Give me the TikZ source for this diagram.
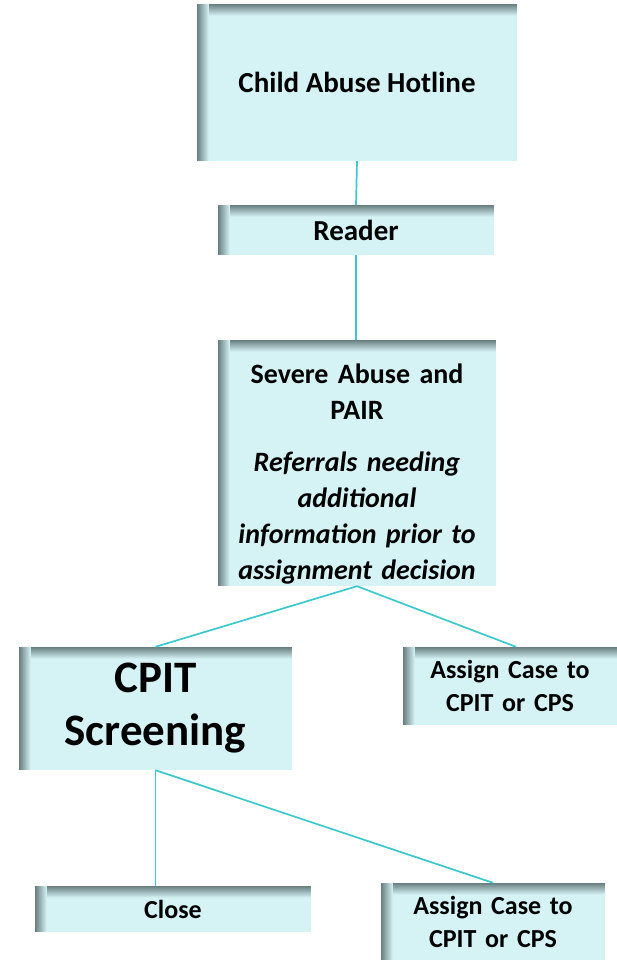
\documentclass[tikz,border=0pt]{standalone}
\usepackage{fontspec}
\setmainfont{Carlito}
\usepackage{tikz}
\usetikzlibrary{arrows}
\definecolor{boxfill}{HTML}{D5F3F5}
\definecolor{boxshade}{HTML}{687F81}
\definecolor{link}{HTML}{3CC8CC}
\begin{document}
\begin{tikzpicture}[x=1pt,y=-1pt,
box/.style={fill=boxfill,inner sep=0pt,align=center,font=\bfseries\fontsize{29}{36}\selectfont,%
path picture={\foreach \i in {0,...,11}{\pgfmathtruncatemacro\p{100-8.5*\i}
\fill[boxshade!\p!boxfill] ([xshift=\i pt]path picture bounding box.north west) rectangle ([xshift=\i pt+1pt]path picture bounding box.south west);
\fill[boxshade!\p!boxfill] ([xshift=\i pt,yshift=-\i pt]path picture bounding box.north west) rectangle ([yshift=-\i pt-1pt]path picture bounding box.north east);}}},
small/.style={font=\bfseries\fontsize{26}{33}\selectfont},
link/.style={draw=link,line width=1.7pt}]
\useasboundingbox (0,0) rectangle (617,960);
\node[box,minimum width=320pt,minimum height=157pt] (hotline) at (357,82.5) {Child Abuse Hotline};
\node[box,minimum width=276pt,minimum height=50pt] (reader) at (356,230) {Reader};
\node[box,minimum width=278pt,minimum height=246pt,text width=278pt,font=\bfseries\fontsize{28}{36}\selectfont] (severe) at (357,463)
{\rule{0pt}{41pt}Severe Abuse and\\PAIR\\[16pt]\itshape Referrals needing\\\itshape additional\\\itshape information prior to\\\itshape assignment decision};
\node[box,minimum width=273pt,minimum height=123pt,text width=273pt,font=\bfseries\fontsize{45}{53}\selectfont] (cpit) at (155.5,708.5) {CPIT\\Screening};
\node[box,small,minimum width=214pt,minimum height=78pt,text width=214pt] (assignA) at (510,686) {Assign Case to\\CPIT or CPS};
\node[box,small,minimum width=276pt,minimum height=46pt] (close) at (173,909) {Close};
\node[box,small,minimum width=224pt,minimum height=77pt,text width=224pt] (assignB) at (493,921.5) {Assign Case to\\CPIT or CPS};
\path[link] (hotline.south) -- (reader.north);
\path[link] (reader.south) -- (reader.south |- severe.north);
\path[link] (severe.south) -- (cpit.north);
\path[link] (severe.south) -- ([xshift=6pt]assignA.north);
\path[link] (cpit.south) -- (cpit.south |- close.north);
\path[link] (cpit.south) -- (assignB.north);
\end{tikzpicture}
\end{document}
